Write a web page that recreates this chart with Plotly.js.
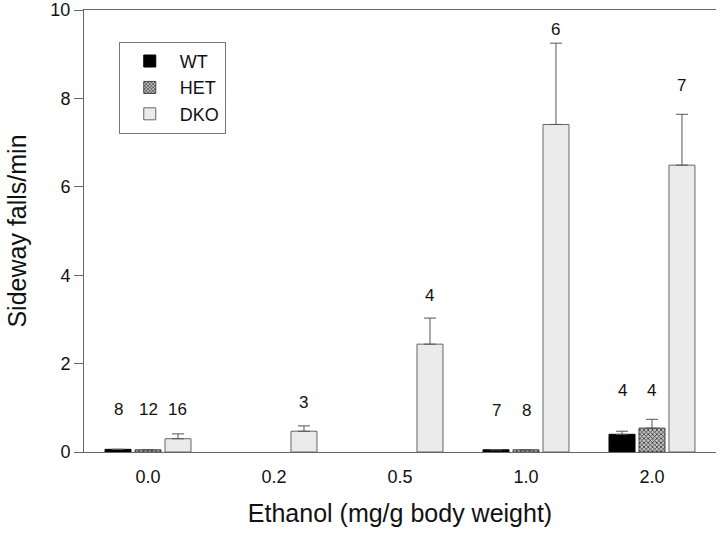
<!DOCTYPE html>
<html>
<head>
<meta charset="utf-8">
<script src="https://cdn.plot.ly/plotly-3.0.1.min.js"></script>
<style>
  html, body { margin: 0; padding: 0; background: #fff; }
  #chart { width: 720px; height: 537px; }
</style>
</head>
<body>
<div id="chart"></div>
<script>
// Ethanol doses (x categories)
const doses = ['0.0', '0.2', '0.5', '1.0', '2.0'];

// Mean sideway falls/min per genotype (null = not tested)
const wtMean  = [0.06, null, null, 0.05, 0.40];
const wtErr   = [null, null, null, null, 0.07];
const hetMean = [0.05, null, null, 0.05, 0.54];
const hetErr  = [null, null, null, null, 0.20];
const dkoMean = [0.30, 0.47, 2.44, 7.41, 6.49];
const dkoErr  = [0.11, 0.12, 0.59, 1.84, 1.15];

// Group sizes (n) printed above the bars, and the height they sit at
const wtN   = ['8', '', '', '7', '4'];
const hetN  = ['12', '', '', '8', '4'];
const dkoN  = ['16', '3', '4', '6', '7'];
const wtNY  = [0.97, null, null, 0.95, 1.40];
const hetNY = [0.97, null, null, 0.95, 1.40];
const dkoNY = [0.97, 1.13, 3.55, 9.57, 8.30];

const yTicks = [0, 2, 4, 6, 8, 10];

const font = 'Liberation Sans, Arial, sans-serif';
const ink = '#111';
const bargap = 0.286;
const slot = (1 - bargap) / 3;   // width of one bar slot in category units

function errBars(arr) {
  return {
    type: 'data', array: arr, symmetric: false, arrayminus: arr.map(() => 0),
    color: '#555', thickness: 1, width: 6
  };
}

const traces = [
  {
    type: 'bar', name: 'WT', x: doses, y: wtMean,
    marker: { color: '#000', line: { color: '#000', width: 1 } },
    error_y: errBars(wtErr)
  },
  {
    type: 'bar', name: 'HET', x: doses, y: hetMean,
    marker: {
      color: '#bbb',
      line: { color: '#444', width: 1 },
      pattern: { shape: 'x', size: 3, solidity: 0.45, fgcolor: '#333', bgcolor: '#c4c4c4' }
    },
    error_y: errBars(hetErr)
  },
  {
    type: 'bar', name: 'DKO', x: doses, y: dkoMean,
    marker: { color: '#ebebeb', line: { color: '#666', width: 1 } },
    error_y: errBars(dkoErr)
  }
];

// n labels
const annotations = [];
[[wtN, wtNY, -1], [hetN, hetNY, 0], [dkoN, dkoNY, 1]].forEach(([labels, ys, k]) => {
  labels.forEach((t, i) => {
    if (!t) return;
    annotations.push({
      x: i + k * slot, y: ys[i], xref: 'x', yref: 'y',
      text: t, showarrow: false,
      font: { family: font, size: 17, color: ink }
    });
  });
});

const layout = {
  width: 720, height: 537,
  margin: { l: 84, r: 4, t: 10, b: 85 },
  paper_bgcolor: '#fff', plot_bgcolor: '#fff',
  barmode: 'group', bargap: bargap, bargroupgap: 0.133,
  font: { family: font, color: ink },
  showlegend: true,
  legend: {
    x: 0.055, y: 0.928, xanchor: 'left', yanchor: 'top',
    bgcolor: '#fff', bordercolor: '#777', borderwidth: 1,
    font: { family: font, size: 18, color: ink },
    itemwidth: 50,
    traceorder: 'normal'
  },
  xaxis: {
    type: 'category', range: [-0.508, 4.508],
    showline: true, linecolor: '#666', linewidth: 1, mirror: true,
    ticks: '', showgrid: false, zeroline: false,
    tickfont: { family: font, size: 18, color: ink },
    ticklabelstandoff: 8,
    title: { text: 'Ethanol (mg/g body weight)', font: { family: font, size: 25, color: ink }, standoff: 18 }
  },
  yaxis: {
    range: [0, 10], tickvals: yTicks, ticktext: yTicks.map(String),
    showline: true, linecolor: '#666', linewidth: 1,
    ticks: 'outside', ticklen: 9, tickcolor: '#666',
    showgrid: false, zeroline: false,
    tickfont: { family: font, size: 18, color: ink },
    title: { text: 'Sideway falls/min', font: { family: font, size: 25, color: ink }, standoff: 16 }
  },
  annotations: annotations
};

Plotly.newPlot('chart', traces, layout, { displayModeBar: false, staticPlot: true });
</script>
</body>
</html>
